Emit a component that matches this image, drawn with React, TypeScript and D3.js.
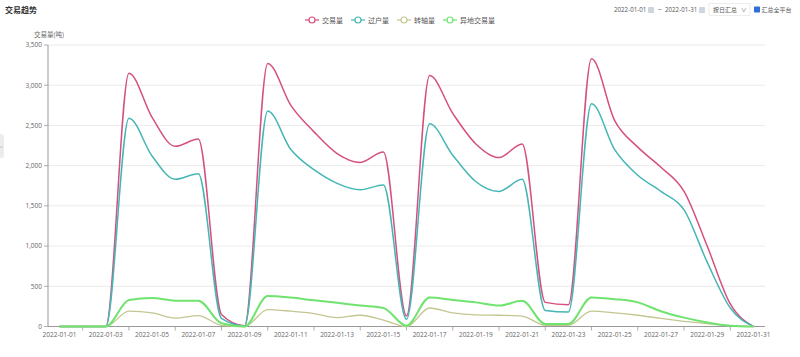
import React from "react";
import * as d3 from "d3";

const dates: string[] = Array.from({ length: 31 }, (_, i) => `2022-01-${String(i + 1).padStart(2, "0")}`);

const tradeVolume: number[] = [0, 0, 0, 3150, 2600, 2240, 2330, 150, 10, 3270, 2750, 2420, 2150, 2040, 2170, 130, 3120, 2650, 2270, 2100, 2270, 300, 270, 3330, 2560, 2230, 1980, 1680, 1000, 280, 0];
const transferVolume: number[] = [0, 0, 0, 2590, 2120, 1830, 1900, 100, 5, 2680, 2200, 1950, 1780, 1700, 1760, 90, 2520, 2130, 1800, 1680, 1830, 200, 180, 2770, 2200, 1880, 1680, 1450, 800, 230, 0];
const rotateVolume: number[] = [0, 0, 0, 190, 170, 105, 135, 15, 0, 210, 190, 160, 110, 140, 80, 0, 230, 170, 145, 140, 130, 15, 15, 190, 170, 140, 100, 65, 35, 10, 0];
const remoteVolume: number[] = [0, 0, 0, 330, 355, 320, 320, 40, 0, 380, 360, 325, 295, 260, 230, 10, 360, 330, 300, 260, 320, 30, 30, 360, 340, 300, 190, 110, 50, 10, 0];

const yTicks: number[] = [0, 500, 1000, 1500, 2000, 2500, 3000, 3500];

const seriesNames: string[] = ["交易量", "过户量", "转轴量", "异地交易量"];
const seriesColors: string[] = ["#d6507e", "#45b5b5", "#c4c690", "#6fe36f"];
const seriesWidths: number[] = [1.5, 1.5, 1.3, 2];

export default function App() {
  const W = 800, H = 357;
  const left = 48, right = 765, top = 45, bottom = 326.5;
  const x = d3.scaleBand<string>().domain(dates).range([left, right]).padding(0);
  const cx = (d: string) => (x(d) as number) + x.bandwidth() / 2;
  const y = d3.scaleLinear().domain([0, 3500]).range([bottom, top]);
  const data = [tradeVolume, transferVolume, rotateVolume, remoteVolume];
  const line = d3
    .line<number>()
    .x((_, i) => cx(dates[i]))
    .y((v) => y(v))
    .curve(d3.curveMonotoneX);
  const fmt = d3.format(",");
  const font = "'Open Sans', 'Noto Sans CJK SC', sans-serif";

  // legend layout
  const legendFont = 7;
  const itemWidths = seriesNames.map((n) => 17 + n.length * legendFont);
  const gap = 8;
  const totalW = itemWidths.reduce((a, b) => a + b, 0) + gap * (seriesNames.length - 1);
  let lx = 400 - totalW / 2;
  const legendItems = seriesNames.map((n, i) => {
    const item = { name: n, x: lx, color: seriesColors[i] };
    lx += itemWidths[i] + gap;
    return item;
  });

  return (
    <svg width={W} height={H} style={{ position: "absolute", left: 0, top: 0, background: "#fff" }} fontFamily={font}>
      <rect x={0} y={0} width={W} height={H} fill="#fff" />
      <text x={5} y={13} fontSize={8} fontWeight={700} fill="#333">交易趋势</text>
      <rect x={-3} y={134} width={7} height={24} rx={3} fill="#ececec" />
      <text x={0} y={149} fontSize={5} fill="#999">&lt;</text>

      {/* legend */}
      {legendItems.map((it) => (
        <g key={it.name}>
          <line x1={it.x} x2={it.x + 14} y1={20} y2={20} stroke={it.color} strokeWidth={1.2} />
          <circle cx={it.x + 7} cy={20} r={3} fill="#fff" stroke={it.color} strokeWidth={1.2} />
          <text x={it.x + 17} y={22.5} fontSize={legendFont} fill="#555">{it.name}</text>
        </g>
      ))}

      {/* top-right controls */}
      <text x={614} y={12} fontSize={6.2} fill="#555">2022-01-01</text>
      <rect x={648} y={7} width={6} height={6} rx={0.5} fill="#cfd6e0" />
      <text x={658} y={12} fontSize={6.2} fill="#555">~</text>
      <text x={665} y={12} fontSize={6.2} fill="#555">2022-01-31</text>
      <rect x={699} y={7} width={6} height={6} rx={0.5} fill="#cfd6e0" />
      <rect x={709} y={3.5} width={41} height={12} fill="#fff" stroke="#e2e2e2" strokeWidth={0.6} />
      <text x={713} y={12} fontSize={6} fill="#555">按日汇总</text>
      <text x={741} y={12} fontSize={5.5} fill="#555">∨</text>
      <rect x={754} y={6.5} width={6} height={6} rx={0.8} fill="#2f6fd6" />
      <text x={761.5} y={12} fontSize={6} fill="#555">汇总全平台</text>

      {/* y axis name */}
      <text x={49} y={37} fontSize={6.5} fill="#666" textAnchor="middle">交易量(吨)</text>

      {/* grid */}
      {yTicks.map((t) => (
        <g key={t}>
          {t > 0 && <line x1={left} x2={right} y1={y(t)} y2={y(t)} stroke="#e4e4e4" strokeWidth={0.8} />}
          <line x1={left - 4} x2={left} y1={y(t)} y2={y(t)} stroke="#999" strokeWidth={0.8} />
          <text x={left - 6} y={y(t) + 2.3} fontSize={6.5} fill="#666" textAnchor="end">{fmt(t)}</text>
        </g>
      ))}
      <line x1={left} x2={left} y1={top} y2={bottom} stroke="#999" strokeWidth={1} />
      <line x1={left} x2={right} y1={bottom} y2={bottom} stroke="#999" strokeWidth={1} />
      {dates.map((d, i) => (
        <g key={d}>
          {i % 2 === 1 && <line x1={cx(d)} x2={cx(d)} y1={bottom} y2={bottom + 4} stroke="#999" strokeWidth={0.8} />}
          {i % 2 === 0 && (
            <text x={cx(d)} y={bottom + 10.5} fontSize={6.5} fill="#666" textAnchor="middle">{d}</text>
          )}
        </g>
      ))}

      {/* series */}
      {data.map((s, k) => (
        <path key={k} d={line(s) || ""} fill="none" stroke={seriesColors[k]} strokeWidth={seriesWidths[k]} strokeLinejoin="round" />
      ))}
    </svg>
  );
}
